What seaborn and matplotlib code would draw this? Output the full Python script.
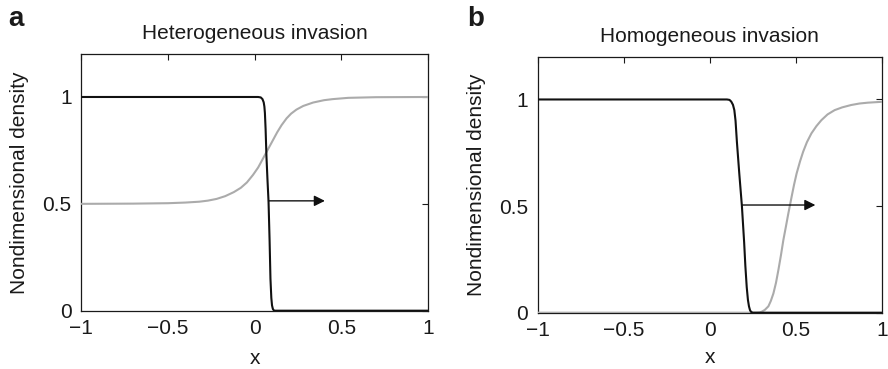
import matplotlib
matplotlib.use("Agg")
import matplotlib.pyplot as plt
import seaborn as sns
import pandas as pd

# ---- data ----
het_black_x = [-1.0, 0.0, 0.02, 0.035, 0.045, 0.052, 0.056, 0.059, 0.063, 0.068, 0.074, 0.08, 0.086, 0.091, 0.096, 0.1, 0.105, 0.112, 0.5, 1.0]
het_black_y = [1.0, 1.0, 1.0, 0.998, 0.99, 0.975, 0.955, 0.925, 0.85, 0.72, 0.61, 0.51, 0.33, 0.15, 0.06, 0.025, 0.008, 0.0, 0.0, 0.0]

het_gray_x = [-1.0, -0.7, -0.5, -0.4, -0.32, -0.27, -0.22, -0.17, -0.12, -0.08, -0.045, -0.01, 0.02, 0.05, 0.07, 0.09, 0.11, 0.13, 0.155, 0.184, 0.21, 0.241, 0.28, 0.337, 0.4, 0.45, 0.54, 0.7, 1.0]
het_gray_y = [0.5, 0.501, 0.503, 0.506, 0.51, 0.515, 0.523, 0.536, 0.555, 0.575, 0.6, 0.635, 0.67, 0.715, 0.745, 0.775, 0.805, 0.835, 0.868, 0.9, 0.922, 0.941, 0.958, 0.974, 0.985, 0.99, 0.996, 0.999, 1.0]

hom_black_x = [-1.0, 0.0, 0.1, 0.115, 0.125, 0.135, 0.143, 0.15, 0.158, 0.172, 0.187, 0.2, 0.207, 0.215, 0.222, 0.228, 0.234, 0.24, 0.25, 0.6, 1.0]
hom_black_y = [1.0, 1.0, 1.0, 0.998, 0.99, 0.975, 0.95, 0.9, 0.8, 0.65, 0.5, 0.33, 0.22, 0.12, 0.06, 0.03, 0.012, 0.004, 0.0, 0.0, 0.0]

hom_gray_x = [-1.0, 0.0, 0.27, 0.29, 0.303, 0.32, 0.341, 0.355, 0.37, 0.385, 0.399, 0.414, 0.428, 0.443, 0.457, 0.476, 0.49, 0.505, 0.525, 0.543, 0.565, 0.591, 0.62, 0.649, 0.685, 0.726, 0.77, 0.822, 0.87, 0.919, 1.0]
hom_gray_y = [0.0, 0.0, 0.0, 0.001, 0.005, 0.013, 0.03, 0.055, 0.09, 0.14, 0.2, 0.27, 0.341, 0.405, 0.466, 0.544, 0.6, 0.653, 0.71, 0.755, 0.8, 0.841, 0.875, 0.903, 0.93, 0.95, 0.963, 0.974, 0.981, 0.985, 0.989]

arrow_a = (0.08, 0.514, 0.405)   # x start, y, x end
arrow_b = (0.187, 0.505, 0.614)

titles = ["Heterogeneous invasion", "Homogeneous invasion"]
panel_labels = ["a", "b"]
xticks = [-1, -0.5, 0, 0.5, 1]
xtick_labels = ["\u22121", "\u22120.5", "0", "0.5", "1"]
yticks = [0, 0.5, 1]
ytick_labels = ["0", "0.5", "1"]

# ---- style ----
sns.set_style("white")
plt.rcParams["font.family"] = ["Liberation Sans", "DejaVu Sans"]
plt.rcParams["axes.unicode_minus"] = True

fig = plt.figure(figsize=(8.88, 3.69), dpi=100)
ax_a = fig.add_axes([0.0916, 0.158, 0.482 - 0.0916, 0.853 - 0.158])
ax_b = fig.add_axes([0.6055, 0.1526, 0.9930 - 0.6055, 0.846 - 0.1526])

panels = [
    (ax_a, het_black_x, het_black_y, het_gray_x, het_gray_y, arrow_a, -0.222, -0.177),
    (ax_b, hom_black_x, hom_black_y, hom_gray_x, hom_gray_y, arrow_b, -0.214, -0.177),
]

TXT = "#1a1a1a"
GRAY = "#ababab"
FS = 15
for i, (ax, bx, by, gx, gy, arr, xl_y, yl_x) in enumerate(panels):
    dg = pd.DataFrame({"x": gx, "y": gy})
    db = pd.DataFrame({"x": bx, "y": by})
    sns.lineplot(data=dg, x="x", y="y", ax=ax, color=GRAY, lw=1.5, estimator=None, zorder=3)
    sns.lineplot(data=db, x="x", y="y", ax=ax, color="#111111", lw=1.5, estimator=None, zorder=4)
    ax.annotate("", xy=(arr[2], arr[1]), xytext=(arr[0], arr[1]),
                arrowprops=dict(arrowstyle="-|>", color="#111111", lw=1.0,
                                mutation_scale=16, shrinkA=0, shrinkB=0), zorder=5)
    ax.set_xlim(-1, 1)
    ax.set_ylim(0, 1.2)
    ax.set_xticks(xticks)
    ax.set_xticklabels(xtick_labels)
    ax.set_yticks(yticks)
    ax.set_yticklabels(ytick_labels)
    ax.tick_params(direction="in", length=4, width=0.8, top=True, right=True,
                   labelsize=FS, colors=TXT, pad=7)
    ax.tick_params(axis="x", pad=6)
    for s in ax.spines.values():
        s.set_visible(True)
        s.set_color(TXT)
        s.set_linewidth(0.9)
    ax.set_xlabel("x", fontsize=FS, color=TXT)
    ax.xaxis.label.set_va("bottom")
    ax.xaxis.set_label_coords(0.5, xl_y)
    ax.set_ylabel("Nondimensional density", fontsize=FS, color=TXT)
    ax.yaxis.label.set_va("center")
    ax.yaxis.set_label_coords(yl_x, 0.5)
    ax.set_title(titles[i], fontsize=FS, pad=11, color=TXT)

fig.text(0.009, 0.985, panel_labels[0], fontsize=20, fontweight="bold", va="top", ha="left", color=TXT)
fig.text(0.526, 0.985, panel_labels[1], fontsize=20, fontweight="bold", va="top", ha="left", color=TXT)

fig.savefig("out.png", dpi=100)
